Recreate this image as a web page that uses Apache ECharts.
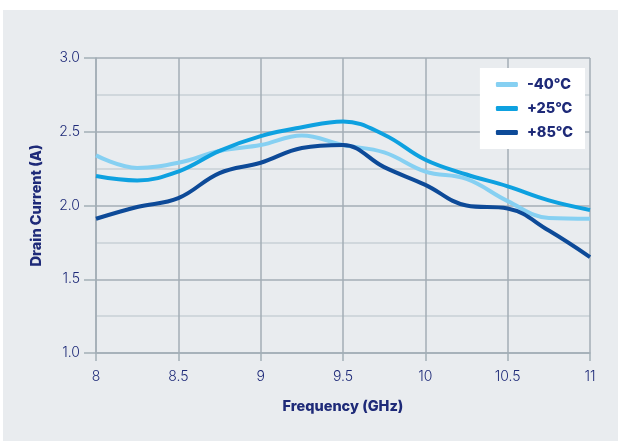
<!DOCTYPE html>
<html>
<head>
<meta charset="utf-8">
<script src="https://cdn.jsdelivr.net/npm/echarts@6/dist/echarts.min.js"></script>
<style>html,body{margin:0;padding:0;background:#fff;}#c{width:618px;height:441px;}</style>
</head>
<body>
<div id="c"></div>
<script>
const freqs = [8, 8.25, 8.5, 8.75, 9, 9.25, 9.5, 9.75, 10, 10.25, 10.5, 10.75, 11];
const seriesNames = ['-40°C', '+25°C', '+85°C'];
const m40 = [2.34, 2.255, 2.29, 2.37, 2.41, 2.475, 2.41, 2.36, 2.23, 2.18, 2.03, 1.915, 1.91];
const p25 = [2.20, 2.17, 2.23, 2.37, 2.47, 2.53, 2.57, 2.48, 2.31, 2.21, 2.13, 2.035, 1.97];
const p85 = [1.91, 1.99, 2.05, 2.22, 2.29, 2.39, 2.41, 2.26, 2.14, 2.00, 1.98, 1.83, 1.65];
const colors = ['#86d0f2', '#0ea1e0', '#0d4a98'];
const navy = '#1e2a78';
const fam = 'Inter';

const allData = [m40, p25, p85];
const chart = echarts.init(document.getElementById('c'), null, {renderer: 'canvas'});
chart.setOption({
  backgroundColor: '#ffffff',
  animation: false,
  graphic: [{type: 'rect', z: -10, shape: {x: 3, y: 10, width: 615, height: 431}, style: {fill: '#e9ecef'}}],
  grid: {left: 96, right: 28, top: 58, bottom: 88},
  legend: {
    right: 33, top: 68,
    orient: 'vertical',
    backgroundColor: '#ffffff',
    padding: [9, 12, 9, 16],
    itemGap: 9,
    itemWidth: 22, itemHeight: 5,
    icon: 'roundRect',
    data: seriesNames,
    textStyle: {color: navy, fontFamily: fam, fontWeight: 800, fontSize: 14.5, padding: [0, 0, 0, 4]}
  },
  xAxis: {
    type: 'value', min: 8, max: 11, interval: 0.5,
    name: 'Frequency (GHz)', nameLocation: 'middle', nameGap: 46,
    nameTextStyle: {color: navy, fontFamily: fam, fontWeight: 800, fontSize: 14.5},
    axisLine: {show: true, lineStyle: {color: '#a3aeb6', width: 1.5}},
    axisTick: {show: true, inside: false, length: 8, lineStyle: {color: '#a3aeb6', width: 1.5}},
    axisLabel: {color: navy, fontFamily: fam, fontWeight: 300, fontSize: 14, margin: 17},
    splitLine: {show: true, lineStyle: {color: '#a3aeb6', width: 1.5}}
  },
  yAxis: {
    type: 'value', min: 1.0, max: 3.0, interval: 0.5,
    name: 'Drain Current (A)', nameLocation: 'middle', nameGap: 52,
    nameTextStyle: {color: navy, fontFamily: fam, fontWeight: 800, fontSize: 14.5},
    axisLine: {show: true, lineStyle: {color: '#a3aeb6', width: 1.5}},
    axisTick: {show: true, inside: false, length: 12, lineStyle: {color: '#a3aeb6', width: 1.5}},
    axisLabel: {color: navy, fontFamily: fam, fontWeight: 300, fontSize: 14, margin: 16, formatter: v => v.toFixed(1)},
    splitLine: {show: true, lineStyle: {color: '#a3aeb6', width: 1.5}},
    minorTick: {show: false, splitNumber: 2},
    minorSplitLine: {show: true, lineStyle: {color: '#c8d0d6', width: 1.5}}
  },
  series: seriesNames.map((n, i) => ({
    name: n, type: 'line', smooth: 0.4, showSymbol: false, symbol: 'none',
    data: freqs.map((f, j) => [f, allData[i][j]]),
    lineStyle: {color: colors[i], width: 4},
    itemStyle: {color: colors[i]},
    z: 3 + i
  }))
});
</script>
</body>
</html>
